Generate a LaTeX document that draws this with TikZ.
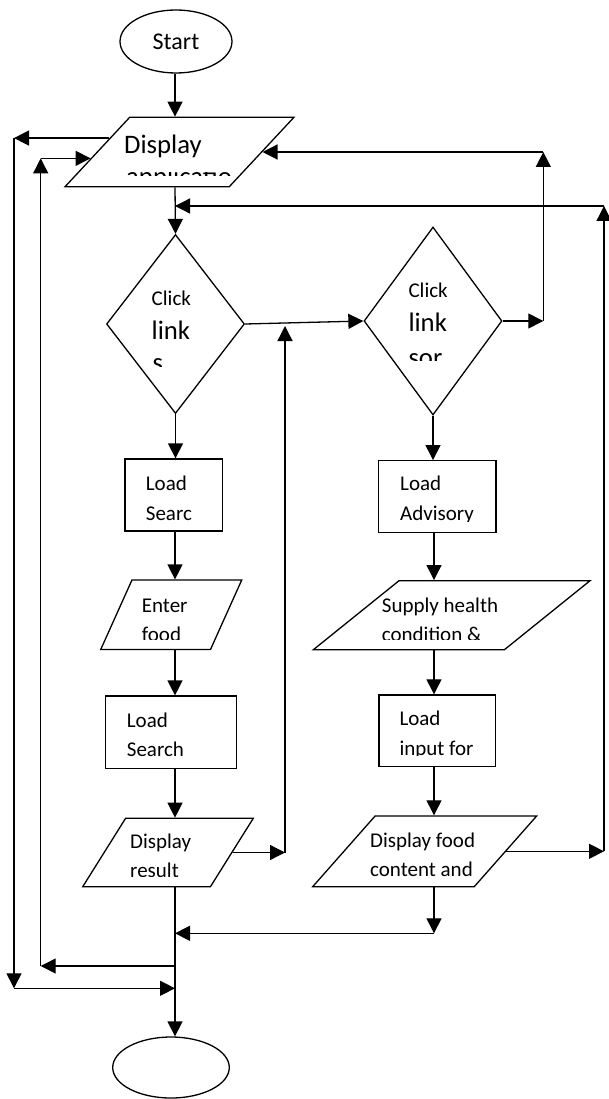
\documentclass[tikz,border=0pt]{standalone}
\usepackage{fontspec}
\setmainfont{Carlito}
\usetikzlibrary{shapes.geometric,arrows.meta,calc}

\begin{document}
\begin{tikzpicture}[x=1pt, y=-1pt,
  term/.style={draw, ellipse, line width=1.3pt, inner sep=0pt},
  proc/.style={draw, rectangle, line width=1.3pt, inner sep=0pt},
  io/.style={draw, trapezium, trapezium stretches=true, line width=1.3pt, inner sep=2pt},
  dec/.style={draw, diamond, line width=1.3pt, inner sep=0pt},
  arr/.style={-{Triangle[length=15pt,width=15pt]}, line width=1.3pt},
  txt/.style={inner sep=0pt, anchor=base west, font=\fontsize{21}{25}\selectfont},
  big/.style={txt, font=\fontsize{26.7}{32}\selectfont}]
\useasboundingbox (0,0) rectangle (609,1099);
\node[term, minimum width=112pt, minimum height=63pt, font=\fontsize{24}{28}\selectfont] (start) at (176,41.5) {Start};
\node[io, minimum width=229pt, minimum height=69.4pt, trapezium left angle=57, trapezium right angle=123] (disp) at (179.5,152) {};
\node[dec, minimum width=138pt, minimum height=179pt] (d1) at (175.5,324) {};
\node[dec, minimum width=138pt, minimum height=188pt] (d2) at (433,321) {};
\node[proc, minimum width=97.7pt, minimum height=72pt] (searc) at (173.8,495) {};
\node[proc, minimum width=117.7pt, minimum height=72pt] (advis) at (437.2,496.7) {};
\node[io, minimum width=141pt, minimum height=69.5pt, trapezium left angle=68.3, trapezium right angle=111.7] (enter) at (171.2,614.8) {};
\node[io, minimum width=276.7pt, minimum height=69pt, trapezium left angle=50.9, trapezium right angle=129.1] (supply) at (451.7,615.2) {};
\node[proc, minimum width=131pt, minimum height=72.3pt] (search) at (171.2,732.2) {};
\node[proc, minimum width=116.7pt, minimum height=71.7pt] (input) at (437.3,730.8) {};
\node[io, minimum width=170.6pt, minimum height=68.4pt, trapezium left angle=63.2, trapezium right angle=116.8] (result) at (168,852.5) {};
\node[io, minimum width=224pt, minimum height=70.7pt, trapezium left angle=57.8, trapezium right angle=122.2] (food) at (424.7,851.3) {};
\node[term, minimum width=116.6pt, minimum height=61pt] (stop) at (171,1067.5) {};

\node[big] (disp-a) at (124,153.3) {Display};
\begin{scope}
\clip (110,172.8) rectangle (290,175.7);
\node[big] (disp-b) at (126,185.2) {applicatio};
\end{scope}
\node[txt] (d1-a) at (151.5,305) {Click};
\node[big] (d1-b) at (151.5,339.3) {link};
\begin{scope}
\clip (140,345) rectangle (215,366);
\node[big] (d1-c) at (152.5,371.5) {s};
\end{scope}
\node[txt] (d2-a) at (408.3,297.7) {Click};
\node[big] (d2-b) at (408.3,331.7) {link};
\begin{scope}
\clip (395,340) rectangle (470,360);
\node[big] (d2-c) at (408.3,366) {sor};
\end{scope}
\node[txt] (searc-a) at (145.7,490) {Load};
\node[txt] (searc-b) at (145.7,520) {Searc};
\node[txt] (advis-a) at (400,490.7) {Load};
\begin{scope}
\clip (385,500) rectangle (490,521.5);
\node[txt] (advis-b) at (400,520.5) {Advisory};
\end{scope}
\node[txt] (enter-a) at (141.7,612.3) {Enter};
\begin{scope}
\clip (110,618) rectangle (240,639);
\node[txt] (enter-b) at (141.7,641.5) {food};
\end{scope}
\node[txt] (supply-a) at (381.7,612.3) {Supply health};
\begin{scope}
\clip (330,618) rectangle (580,639);
\node[txt] (supply-b) at (381.7,641.8) {condition \&};
\end{scope}
\node[txt] (search-a) at (126.7,727.3) {Load};
\node[txt] (search-b) at (126.7,756.7) {Search};
\node[txt] (input-a) at (399.3,725.7) {Load};
\begin{scope}
\clip (385,732) rectangle (490,755.5);
\node[txt] (input-b) at (399.3,755.2) {input for};
\end{scope}
\node[txt] (result-a) at (130,848.3) {Display};
\begin{scope}
\clip (100,855) rectangle (245,876.8);
\node[txt] (result-b) at (130,877.8) {result};
\end{scope}
\node[txt] (food-a) at (370,847.3) {Display food};
\node[txt] (food-b) at (370,876.7) {content and};

\coordinate (colL) at (175,0);
\coordinate (colR) at (434,0);
\coordinate (xA) at (285,0);
\coordinate (xB) at (543.3,0);
\coordinate (xC) at (604,0);
\coordinate (xL1) at (14,0);
\coordinate (xL2) at (40.7,0);
\coordinate (yTop) at (0,206);
\coordinate (yMerge) at (0,933.3);
\coordinate (yIn) at (0,966);
\coordinate (yOut) at (0,988.3);
\coordinate (yLink) at ($(d1.east)+(0,2)$);
\coordinate (dispOut) at ($(disp.bottom left corner)!0.697!(disp.top left corner)$);
\coordinate (dispIn) at ($(disp.bottom left corner)!0.41!(disp.top left corner)$);

\draw[arr] (start.south -| colL) -- (disp.north -| colL);
\draw[arr] (disp.south -| colL) -- (d1.north);
\draw[arr] (d1.south) -- (searc.north -| d1.south);
\draw[arr] (searc.south -| colL) -- (enter.north -| colL);
\draw[arr] (enter.south -| colL) -- (search.north -| colL);
\draw[arr] (search.south -| colL) -- (result.north -| colL);
\draw[arr] (result.south -| colL) -- (stop.north -| colL);
\draw[arr] (d1.east) -- (d2.west);
\draw[arr] (d2.south) -- (advis.north -| d2.south);
\draw[arr] (advis.south -| colR) -- (supply.north -| colR);
\draw[arr] (supply.south -| colR) -- (input.north -| colR);
\draw[arr] (input.south -| colR) -- (food.north -| colR);
\draw[arr] (food.south -| colR) -- (yMerge -| colR);
\draw[arr] (yMerge -| colR) -- (yMerge -| colL);
\draw[arr] (result.east) -- (result.east -| xA);
\draw[arr] (result.east -| xA) -- (yLink -| xA);
\draw[arr] (d2.east) -- (d2.east -| xB);
\draw[arr] (d2.east -| xB) -- (disp.east -| xB);
\draw[arr] (disp.east -| xB) -- (disp.east);
\draw[arr] (food.east) -- (food.east -| xC);
\draw[arr] (food.east -| xC) -- (yTop -| xC);
\draw[arr] (yTop -| xC) -- (yTop -| colL);
\draw[arr] (dispOut) -- (dispOut -| xL1);
\draw[arr] (dispOut -| xL1) -- (yOut -| xL1);
\draw[arr] (yOut -| xL1) -- (yOut -| colL);
\draw[arr] (yIn -| colL) -- (yIn -| xL2);
\draw[arr] (yIn -| xL2) -- (dispIn -| xL2);
\draw[arr] (dispIn -| xL2) -- (dispIn);
\end{tikzpicture}
\end{document}
